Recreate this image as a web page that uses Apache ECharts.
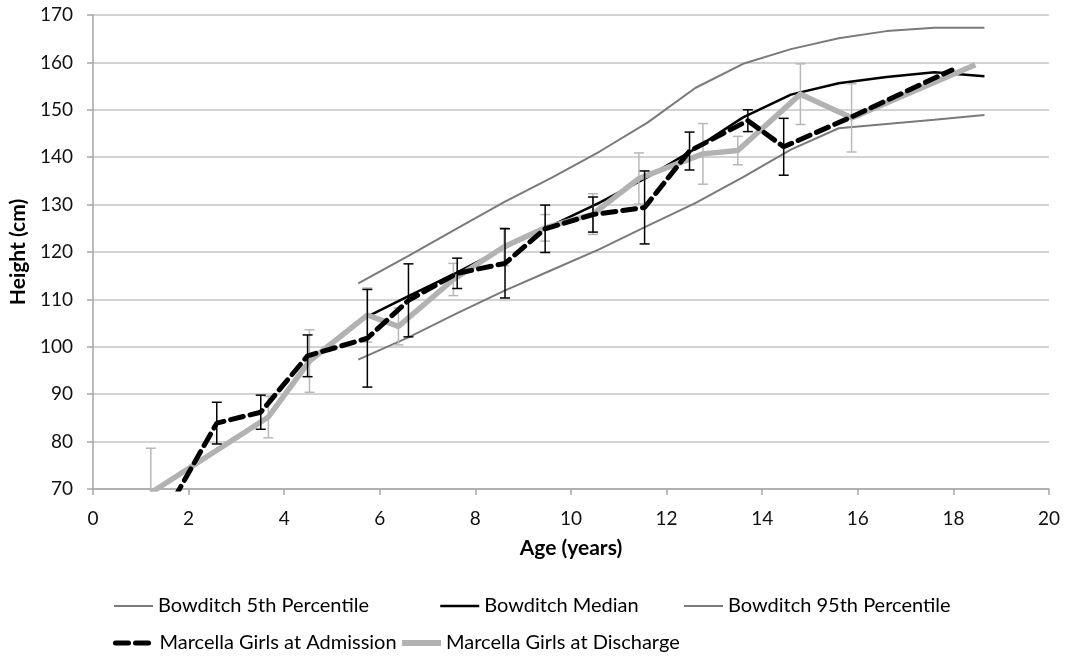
<!DOCTYPE html>
<html>
<head>
<meta charset="utf-8">
<script src="https://cdn.jsdelivr.net/npm/echarts@6/dist/echarts.min.js"></script>
<style>
html,body{margin:0;padding:0;background:#fff;}
#chart{width:1074px;height:657px;}
</style>
</head>
<body>
<div id="chart"></div>
<script>
// Bowditch reference curves
const bowAges = [5.55, 6.6, 7.6, 8.6, 9.6, 10.6, 11.6, 12.6, 13.6, 14.6, 15.6, 16.6, 17.6, 18.65];
const bowP5 = [97.3, 102.0, 107.0, 111.8, 116.2, 120.6, 125.5, 130.3, 135.8, 141.6, 146.1, 147.0, 147.9, 148.9];
const bowMedian = [105.4, 110.7, 115.6, 120.8, 125.6, 130.4, 135.8, 141.8, 148.4, 153.2, 155.6, 156.9, 157.9, 157.1];
const bowP95 = [113.4, 119.2, 124.9, 130.5, 135.7, 141.2, 147.3, 154.6, 159.7, 162.8, 165.1, 166.6, 167.3, 167.3];

// Marcella girls at admission
const admAge = [1.5, 2.59, 3.51, 4.49, 5.74, 6.60, 7.62, 8.62, 9.46, 10.46, 11.54, 12.48, 13.70, 14.45, 15.78, 17.97];
const admHeight = [64.5, 83.9, 86.2, 98.1, 101.8, 109.8, 115.5, 117.6, 124.9, 127.9, 129.4, 141.3, 147.7, 142.2, 148.1, 158.4];
const admErr = [null, 4.4, 3.6, 4.4, 10.3, 7.7, 3.2, 7.3, 5.0, 3.7, 7.7, 4.0, 2.3, 6.0, null, null];

// Marcella girls at discharge
const disAge = [1.21, 3.67, 4.53, 5.74, 6.39, 7.54, 8.60, 9.46, 10.46, 11.42, 12.76, 13.49, 14.80, 15.87, 18.46];
const disHeight = [69.2, 85.2, 97.0, 106.7, 104.3, 114.2, 121.1, 125.1, 128.0, 135.5, 140.7, 141.4, 153.3, 148.3, 159.5];
const disErr = [9.4, 4.4, 6.6, 5.7, 3.9, 3.4, 4.0, 2.8, 4.3, 5.4, 6.4, 3.0, 6.4, 7.2, null];

const xTicks = [0, 2, 4, 6, 8, 10, 12, 14, 16, 18, 20];
const yTicks = [70, 80, 90, 100, 110, 120, 130, 140, 150, 160, 170];

const FONT = 'Lato, "Open Sans", sans-serif';
const pairs = (xs, ys) => xs.map((x, i) => [x, ys[i]]);
const errData = (xs, ys, es) => xs.map((x, i) => es[i] == null ? null : [x, ys[i] - es[i], ys[i] + es[i]]).filter(d => d);

function errRender(color) {
  return function (params, api) {
    const x = api.value(0);
    const lo = api.coord([x, api.value(1)]);
    const hi = api.coord([x, api.value(2)]);
    const cap = 5;
    const style = { stroke: color, lineWidth: 1.5 };
    return {
      type: 'group',
      children: [
        { type: 'line', shape: { x1: lo[0], y1: lo[1], x2: hi[0], y2: hi[1] }, style },
        { type: 'line', shape: { x1: lo[0] - cap, y1: lo[1], x2: lo[0] + cap, y2: lo[1] }, style },
        { type: 'line', shape: { x1: hi[0] - cap, y1: hi[1], x2: hi[0] + cap, y2: hi[1] }, style }
      ]
    };
  };
}

const styles = {
  p5: { color: '#7a7a7a', width: 2 },
  med: { color: '#000', width: 2.5 },
  p95: { color: '#7a7a7a', width: 2 },
  adm: { color: '#000', width: 5, type: [13, 7], cap: 'round' },
  dis: { color: '#b2b2b2', width: 6 }
};

function legendAt(left, top, name, ls) {
  return {
    left: left, top: top, data: [name], padding: 0,
    itemWidth: 39, itemHeight: 14, itemGap: 0,
    selectedMode: false,
    itemStyle: { opacity: 0 },
    lineStyle: Object.assign({}, ls),
    textStyle: { fontFamily: FONT, fontSize: 20, color: '#000' }
  };
}

const chart = echarts.init(document.getElementById('chart'), null, { renderer: 'canvas' });
chart.setOption({
  animation: false,
  backgroundColor: '#fff',
  grid: { left: 91, right: 25, top: 15, bottom: 168 },
  legend: [
    legendAt(113, 596, 'Bowditch 5th Percentile', styles.p5),
    legendAt(439, 596, 'Bowditch Median', styles.med),
    legendAt(683, 596, 'Bowditch 95th Percentile', styles.p95),
    legendAt(113, 633, 'Marcella Girls at Admission', styles.adm),
    legendAt(399, 633, 'Marcella Girls at Discharge', styles.dis)
  ],
  xAxis: {
    type: 'value', min: xTicks[0], max: xTicks[xTicks.length - 1], interval: 2,
    name: 'Age (years)', nameLocation: 'middle', nameGap: 49,
    nameTextStyle: { fontFamily: FONT, fontSize: 21, fontWeight: 'bold', color: '#000' },
    axisLine: { lineStyle: { color: '#a6a6a6', width: 1.5 } },
    axisTick: { show: true, length: 6, lineStyle: { color: '#a6a6a6', width: 1.5 } },
    axisLabel: { fontFamily: FONT, fontSize: 19, color: '#111', margin: 20 },
    splitLine: { show: false }
  },
  yAxis: {
    type: 'value', min: yTicks[0], max: yTicks[yTicks.length - 1], interval: 10,
    name: 'Height (cm)', nameLocation: 'middle', nameGap: 57,
    nameTextStyle: { fontFamily: FONT, fontSize: 21, fontWeight: 'bold', color: '#000' },
    axisLine: { show: true, lineStyle: { color: '#a6a6a6', width: 1.5 } },
    axisTick: { show: true, length: 6, lineStyle: { color: '#a6a6a6', width: 1.5 } },
    axisLabel: { fontFamily: FONT, fontSize: 19, color: '#111', margin: 20 },
    splitLine: { show: true, lineStyle: { color: '#c4c4c4', width: 1.5 } }
  },
  series: [
    { name: 'Bowditch 5th Percentile', type: 'line', data: pairs(bowAges, bowP5), symbol: 'none', showSymbol: false,
      lineStyle: styles.p5, itemStyle: { color: styles.p5.color }, z: 2 },
    { name: 'Bowditch Median', type: 'line', data: pairs(bowAges, bowMedian), symbol: 'none', showSymbol: false,
      lineStyle: styles.med, itemStyle: { color: styles.med.color }, z: 2 },
    { name: 'Bowditch 95th Percentile', type: 'line', data: pairs(bowAges, bowP95), symbol: 'none', showSymbol: false,
      lineStyle: styles.p95, itemStyle: { color: styles.p95.color }, z: 2 },
    { name: 'Marcella Girls at Discharge', type: 'line', data: pairs(disAge, disHeight), symbol: 'none', showSymbol: false,
      lineStyle: Object.assign({}, styles.dis, { width: 5.5 }), itemStyle: { color: styles.dis.color }, z: 3 },
    { name: 'dis-err', type: 'custom', data: errData(disAge, disHeight, disErr), renderItem: errRender('#b8b8b8'),
      clip: true, z: 3, silent: true, encode: { x: 0, y: [1, 2] } },
    { name: 'Marcella Girls at Admission', type: 'line', data: pairs(admAge, admHeight), symbol: 'none', showSymbol: false,
      lineStyle: styles.adm, itemStyle: { color: styles.adm.color }, z: 4 },
    { name: 'adm-err', type: 'custom', data: errData(admAge, admHeight, admErr), renderItem: errRender('#000'),
      clip: true, z: 4, silent: true, encode: { x: 0, y: [1, 2] } }
  ]
});
</script>
</body>
</html>
